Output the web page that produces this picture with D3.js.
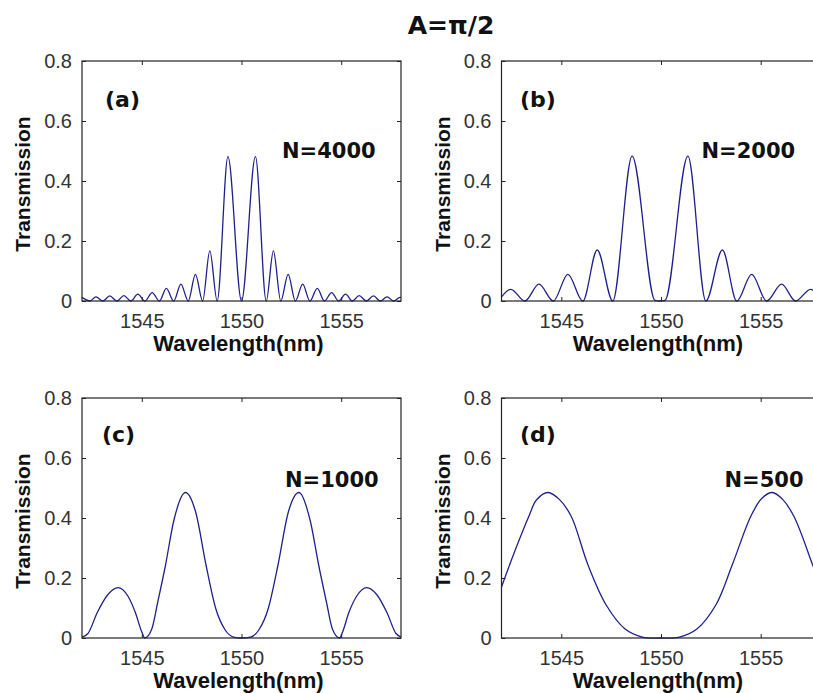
<!DOCTYPE html>
<html>
<head>
<meta charset="utf-8">
<script src="https://cdn.jsdelivr.net/npm/d3@7"></script>
<style>
  body { margin: 0; background: #fff; overflow: hidden; }
  svg { display: block; }
  .tick text { font-family: "Liberation Sans", Arial, sans-serif; font-size: 20px; fill: #333; }
  .tick line { stroke: #222; }
</style>
</head>
<body>
<div id="chart"></div>
<script>
// values
var xTicks = [1545, 1550, 1555];
var yTicks = [0, 0.2, 0.4, 0.6, 0.8];
var panelTags = ["(a)", "(b)", "(c)", "(d)"];
var nLabels = ["N=4000", "N=2000", "N=1000", "N=500"];

var wl_a = [1542.0, 1542.4, 1542.7, 1543.05, 1543.39, 1543.75, 1544.1, 1544.45, 1544.8, 1545.16,
    1545.52, 1545.88, 1546.23, 1546.6, 1546.96, 1547.33, 1547.69, 1548.05, 1548.41, 1548.78,
    1549.32, 1550.0, 1550.7, 1551.24, 1551.6, 1551.97, 1552.34, 1552.7, 1553.07, 1553.43,
    1553.8, 1554.16, 1554.52, 1554.87, 1555.22, 1555.56, 1555.9, 1556.26, 1556.62, 1556.96,
    1557.3, 1557.63, 1557.95, 1558.0];
var tr_a = [0.012, 0, 0.014, 0, 0.017, 0, 0.018, 0, 0.023, 0,
    0.028, 0, 0.042, 0, 0.056, 0, 0.089, 0, 0.167, 0,
    0.481, 0, 0.481, 0, 0.167, 0, 0.089, 0, 0.056, 0,
    0.042, 0, 0.028, 0, 0.023, 0, 0.018, 0, 0.017, 0,
    0.014, 0, 0.012, 0.012];

var wl_b = [1542.0, 1542.47, 1543.17, 1543.88, 1544.6, 1545.33, 1546.08, 1546.8, 1547.58, 1548.55,
    1549.7, 1549.95, 1550.2, 1551.35, 1552.25, 1553.08, 1553.8, 1554.55, 1555.3, 1556.05,
    1556.75, 1557.5, 1558.0];
var tr_b = [0.014, 0.039, 0, 0.056, 0, 0.089, 0, 0.17, 0, 0.483,
    0.002, 0, 0.002, 0.483, 0, 0.17, 0, 0.089, 0, 0.056,
    0, 0.039, 0.01];

var wl_c = [1542.0, 1542.3, 1542.76, 1543.3, 1543.81, 1544.3, 1544.68, 1545.0, 1545.15, 1545.5,
    1545.8, 1546.18, 1546.6, 1547.19, 1547.7, 1548.23, 1548.7, 1549.2, 1549.6, 1550.0,
    1550.45, 1550.85, 1551.35, 1551.82, 1552.35, 1552.88, 1553.45, 1553.88, 1554.26, 1554.56,
    1554.92, 1555.07, 1555.38, 1555.78, 1556.28, 1556.78, 1557.3, 1557.75, 1558.0];
var tr_c = [0.003, 0.015, 0.084, 0.145, 0.168, 0.14, 0.084, 0.02, 0, 0.03,
    0.12, 0.24, 0.39, 0.485, 0.42, 0.24, 0.1, 0.025, 0.003, 0,
    0.003, 0.025, 0.1, 0.24, 0.42, 0.485, 0.39, 0.24, 0.12, 0.03,
    0, 0.02, 0.084, 0.14, 0.168, 0.145, 0.084, 0.015, 0.003];

var wl_d = [1542.0, 1542.67, 1543.4, 1543.75, 1544.33, 1544.9, 1545.5, 1546.33, 1547.25, 1548.2,
    1549.07, 1550.0, 1550.92, 1551.8, 1552.75, 1553.58, 1554.5, 1555.05, 1555.58, 1556.1,
    1556.67, 1557.57, 1558.0];
var tr_d = [0.17, 0.29, 0.41, 0.46, 0.485, 0.462, 0.405, 0.245, 0.11, 0.03,
    0.003, 0, 0.003, 0.03, 0.11, 0.245, 0.405, 0.465, 0.485, 0.462,
    0.405, 0.25, 0.17];

var panels = [
    {x0: 82,    y0: 61,  wl: wl_a, tr: tr_a, tagX: 23,   tagY: 46, nX: 200, nY: 97, curve: d3.curveMonotoneX},
    {x0: 501.5, y0: 61,  wl: wl_b, tr: tr_b, tagX: 18.5, tagY: 46, nX: 200, nY: 97, curve: d3.curveMonotoneX},
    {x0: 82,    y0: 398, wl: wl_c, tr: tr_c, tagX: 20,   tagY: 44, nX: 203, nY: 89, curve: d3.curveMonotoneX},
    {x0: 501.5, y0: 398, wl: wl_d, tr: tr_d, tagX: 18.5, tagY: 44, nX: 223, nY: 89, curve: d3.curveCatmullRom.alpha(0.5)}
];

var w = 319, h = 240;

var svg = d3.select("#chart").append("svg")
    .attr("width", 813)
    .attr("height", 693);

svg.append("text")
    .attr("x", 451).attr("y", 34)
    .attr("text-anchor", "middle")
    .style("font-family", "DejaVu Sans, sans-serif")
    .style("font-weight", "bold")
    .style("font-size", "25px")
    .style("fill", "#111")
    .text("A=\u03c0/2");

var xScale = d3.scaleLinear().domain([1542, 1558]).range([0, w]);
var yScale = d3.scaleLinear().domain([0, 0.8]).range([h, 0]);

function yFmt(d) { return d === 0 ? "0" : d3.format(".1f")(d); }

panels.forEach(function(p, i) {
    var g = svg.append("g").attr("transform", "translate(" + p.x0 + "," + p.y0 + ")");

    g.append("g").attr("transform", "translate(0," + h + ")")
        .call(d3.axisBottom(xScale).tickValues(xTicks).tickFormat(d3.format("d"))
            .tickSizeInner(-4).tickSizeOuter(0).tickPadding(13))
        .call(function(a) { a.select(".domain").remove(); });
    g.append("g")
        .call(d3.axisTop(xScale).tickValues(xTicks).tickSizeInner(-4).tickSizeOuter(0).tickFormat(""))
        .call(function(a) { a.select(".domain").remove(); });
    g.append("g")
        .call(d3.axisLeft(yScale).tickValues(yTicks).tickFormat(yFmt)
            .tickSizeInner(-4).tickSizeOuter(0).tickPadding(10))
        .call(function(a) { a.select(".domain").remove(); });
    g.append("g").attr("transform", "translate(" + w + ",0)")
        .call(d3.axisRight(yScale).tickValues(yTicks).tickSizeInner(-4).tickSizeOuter(0).tickFormat(""))
        .call(function(a) { a.select(".domain").remove(); });

    var pathMaker = d3.line()
        .x(function(d) { return xScale(d[0]); })
        .y(function(d) { return yScale(d[1]); })
        .curve(p.curve);

    g.append("path")
        .datum(d3.zip(p.wl, p.tr))
        .attr("d", pathMaker)
        .attr("fill", "none")
        .attr("stroke", "#20208c")
        .attr("stroke-width", 1.3);

    g.append("rect")
        .attr("x", 0).attr("y", 0)
        .attr("width", w).attr("height", h)
        .attr("fill", "none")
        .attr("stroke", "#222")
        .attr("stroke-width", 1.2);

    g.append("text")
        .attr("x", p.tagX).attr("y", p.tagY)
        .style("font-family", "DejaVu Sans, sans-serif")
        .style("font-weight", "bold")
        .style("font-size", "22px")
        .style("fill", "#111")
        .text(panelTags[i]);

    g.append("text")
        .attr("x", p.nX).attr("y", p.nY)
        .style("font-family", "DejaVu Sans, sans-serif")
        .style("font-weight", "bold")
        .style("font-size", "21px")
        .style("fill", "#111")
        .text(nLabels[i]);

    g.append("text")
        .attr("transform", "translate(-52," + (h / 2 + 3) + ") rotate(-90)")
        .attr("text-anchor", "middle")
        .style("font-family", "Liberation Sans, Arial, sans-serif")
        .style("font-weight", "bold")
        .style("font-size", "21px")
        .style("fill", "#111")
        .text("Transmission");

    g.append("text")
        .attr("x", w / 2 - 3).attr("y", h + 50)
        .attr("text-anchor", "middle")
        .style("font-family", "Liberation Sans, Arial, sans-serif")
        .style("font-weight", "bold")
        .style("font-size", "22px")
        .style("fill", "#111")
        .text("Wavelength(nm)");
});
</script>
</body>
</html>
